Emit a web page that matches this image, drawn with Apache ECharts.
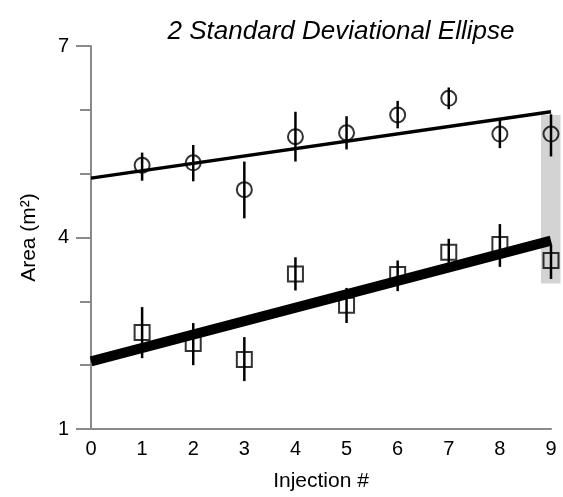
<!DOCTYPE html>
<html>
<head>
<meta charset="utf-8">
<script src="https://cdn.jsdelivr.net/npm/echarts@6/dist/echarts.min.js"></script>
<style>
  html, body { margin: 0; padding: 0; background: #fff; }
  #chart { width: 563px; height: 497px; }
</style>
</head>
<body>
<div id="chart"></div>
<script>
// injection numbers
const injections = [1, 2, 3, 4, 5, 6, 7, 8, 9];

// circles (upper group)
const circleMean = [5.13, 5.17, 4.75, 5.58, 5.64, 5.92, 6.18, 5.62, 5.62];
const circleLow = [4.89, 4.88, 4.30, 5.19, 5.38, 5.71, 6.01, 5.40, 5.27];
const circleHigh = [5.33, 5.45, 5.19, 5.97, 5.90, 6.14, 6.35, 5.86, 5.93];
const circleFit = [[0, 4.93], [9, 5.97]];

// squares (lower group)
const squareMean = [2.51, 2.34, 2.09, 3.43, 2.94, 3.42, 3.77, 3.89, 3.64];
const squareLow = [2.11, 2.00, 1.75, 3.17, 2.66, 3.16, 3.56, 3.54, 3.35];
const squareHigh = [2.91, 2.66, 2.44, 3.69, 3.21, 3.64, 3.98, 4.21, 3.88];
const squareFit = [[0, 2.06], [9, 3.95]];

// shaded ellipse range at the last injection: [x, low, high]
const ellipseBand = [[9, 3.28, 5.92]];

const yMajorTicks = [1, 4, 7];
const yMinorTicks = [2, 3, 5, 6];

const FONT = "Arial, 'Liberation Sans', sans-serif";
const AXIS_GREY = "#8a8a8a";

const chart = echarts.init(document.getElementById("chart"));

// 误差棒
function errorBar(params, api) {
  const lo = api.coord([api.value(0), api.value(1)]);
  const hi = api.coord([api.value(0), api.value(2)]);
  return {
    type: "line",
    shape: { x1: lo[0], y1: lo[1], x2: hi[0], y2: hi[1] },
    style: { stroke: "#000", lineWidth: 2.5 }
  };
}

function band(params, api) {
  const top = api.coord([api.value(0), api.value(2)]);
  const bottom = api.coord([api.value(0), api.value(1)]);
  return {
    type: "rect",
    shape: { x: top[0] - 10, y: top[1], width: 19.5, height: bottom[1] - top[1] },
    style: { fill: "#d3d3d3" }
  };
}

const zip = (a, b, c) => injections.map((x, i) => c ? [x, a[i], b[i]] : [x, a[i]]);

const option = {
  animation: false,
  backgroundColor: "#fff",
  title: {
    text: "2 Standard Deviational Ellipse",
    left: 336,
    top: 14,
    textAlign: "center",
    textStyle: { fontFamily: FONT, fontSize: 26, fontStyle: "italic", fontWeight: "normal", color: "#000" }
  },
  grid: { left: 91, right: 12, top: 46, bottom: 67, containLabel: false },
  xAxis: {
    type: "value",
    min: 0,
    max: 9,
    interval: 1,
    name: "Injection #",
    nameLocation: "middle",
    nameGap: 42,
    nameTextStyle: { fontFamily: FONT, fontSize: 21, color: "#000" },
    axisLine: { lineStyle: { color: AXIS_GREY, width: 2 } },
    axisTick: { show: false },
    splitLine: { show: false },
    axisLabel: { fontFamily: FONT, fontSize: 20, color: "#000", margin: 10 }
  },
  yAxis: [
    {
      type: "value",
      position: "left",
      min: 1,
      max: 7,
      interval: 1,
      name: "Area (m²)",
      nameLocation: "middle",
      nameGap: 51,
      nameTextStyle: { fontFamily: FONT, fontSize: 21, color: "#000" },
      axisLine: { show: true, lineStyle: { color: AXIS_GREY, width: 2 } },
      axisTick: { show: true, length: 15, customValues: yMajorTicks, lineStyle: { color: AXIS_GREY, width: 2 } },
      axisLabel: { fontFamily: FONT, fontSize: 20, color: "#000", margin: 22, customValues: yMajorTicks },
      splitLine: { show: false }
    },
    {
      type: "value",
      position: "left",
      min: 1,
      max: 7,
      interval: 1,
      axisLine: { show: false },
      axisTick: { show: true, length: 11, customValues: yMinorTicks, lineStyle: { color: AXIS_GREY, width: 2 } },
      axisLabel: { show: false },
      splitLine: { show: false }
    }
  ],
  series: [
    {
      type: "custom",
      renderItem: band,
      clip: false,
      z: 1,
      data: ellipseBand,
      encode: { x: 0, y: [1, 2] }
    },
    {
      type: "line",
      data: circleFit,
      symbol: "none",
      z: 2,
      lineStyle: { color: "#000", width: 3.5 }
    },
    {
      type: "line",
      data: squareFit,
      symbol: "none",
      z: 2,
      lineStyle: { color: "#000", width: 10 }
    },
    {
      type: "custom",
      renderItem: errorBar,
      clip: false,
      z: 3,
      data: zip(circleLow, circleHigh, true),
      encode: { x: 0, y: [1, 2] }
    },
    {
      type: "custom",
      renderItem: errorBar,
      clip: false,
      z: 3,
      data: zip(squareLow, squareHigh, true),
      encode: { x: 0, y: [1, 2] }
    },
    {
      type: "scatter",
      data: zip(circleMean),
      symbol: "circle",
      symbolSize: 15,
      z: 4,
      itemStyle: { color: "rgba(0,0,0,0)", borderColor: "#000", borderWidth: 2 }
    },
    {
      type: "scatter",
      data: zip(squareMean),
      symbol: "rect",
      symbolSize: 15,
      z: 4,
      itemStyle: { color: "rgba(0,0,0,0)", borderColor: "#000", borderWidth: 2 }
    }
  ]
};

chart.setOption(option);
</script>
</body>
</html>
